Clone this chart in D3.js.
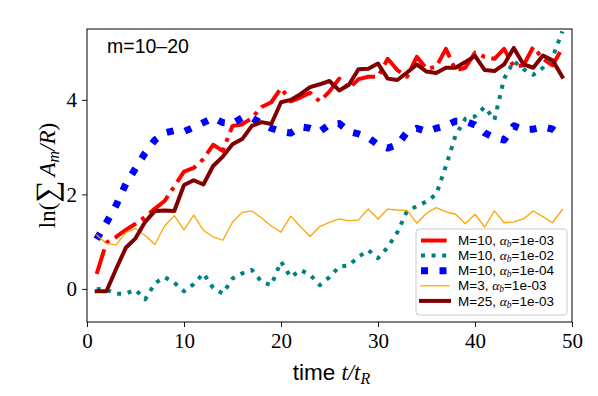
<!DOCTYPE html>
<html><head><meta charset="utf-8">
<script src="https://cdn.jsdelivr.net/npm/d3@7/dist/d3.min.js"></script>
<style>body{margin:0;background:#fff}svg{display:block}</style>
</head><body><svg id="c" width="598" height="396"></svg>
<script>
const times = [1,2,3,4,5,6,7,8,9,10,11,12,13,14,15,16,17,18,19,20,21,22,23,24,25,26,27,28,29,30,31,32,33,34,35,36,37,38,39,40,41,42,43,44,45,46,47,48,49];
const seriesLabels = ["M=10", "M=10", "M=10", "M=3", "M=25"];
const alphaLabels = ["1e-03", "1e-02", "1e-04", "1e-03", "1e-03"];
const m10a3 = [0.32,0.98,1.1,1.25,1.38,1.52,1.7,1.86,2.17,2.48,2.56,2.75,3.05,2.92,3.45,3.48,3.62,3.85,3.95,4.25,3.97,4.05,4.15,3.97,4.18,4.45,4.24,4.44,4.49,4.49,4.87,4.63,4.49,4.91,4.66,4.7,5.08,4.63,4.68,5.0,4.91,4.87,5.08,4.7,4.73,5.12,4.87,4.73,5.1];
const m10a2 = [0.0,-0.02,-0.1,-0.1,-0.02,-0.22,0.12,0.25,0.13,-0.05,0.1,0.33,0.02,-0.1,0.22,0.33,0.4,0.15,0.08,0.58,0.25,0.4,0.3,0.08,0.25,0.47,0.5,0.68,0.82,0.65,0.88,1.2,1.65,1.75,1.85,2.0,2.6,3.25,3.6,3.65,3.85,3.58,4.45,4.82,4.65,4.53,4.68,4.9,5.45];
const m10a4 = [1.05,1.4,1.77,2.22,2.55,2.88,3.15,3.3,3.35,3.33,3.42,3.52,3.62,3.52,3.5,3.62,3.62,3.5,3.4,3.33,3.3,3.43,3.4,3.33,3.48,3.5,3.33,3.28,3.2,3.05,2.98,3.05,3.32,3.4,3.33,3.4,3.45,3.55,3.55,3.47,3.3,3.2,3.15,3.45,3.37,3.38,3.43,3.38,3.22];
const m3a3 = [1.14,0.96,0.93,1.19,1.28,1.13,0.94,1.33,1.55,1.25,1.56,1.24,1.1,1.03,1.41,1.62,1.65,1.5,1.33,1.2,1.54,1.32,1.11,1.32,1.41,1.48,1.44,1.46,1.69,1.48,1.69,1.67,1.66,1.39,1.6,1.72,1.63,1.58,1.38,1.58,1.31,1.65,1.4,1.42,1.48,1.65,1.53,1.4,1.68];
const m25a3 = [-0.05,-0.05,0.42,0.87,1.07,1.42,1.65,1.66,1.65,2.2,2.3,2.21,2.6,2.8,3.06,3.17,3.45,3.53,3.49,3.95,4.0,4.12,4.27,4.33,4.4,4.2,4.32,4.65,4.66,4.77,4.45,4.42,4.58,4.75,4.6,4.57,4.68,4.68,4.8,4.93,4.63,4.61,4.75,5.1,4.75,4.68,4.94,4.84,4.49];
const xTicks = [0,10,20,30,40,50];
const yTicks = [0,2,4];
const panelLabel = "m=10–20";

const seriesData = [m10a3, m10a2, m10a4, m3a3, m25a3];
const styles = [
  {color:"#ff0000", w:4, dash:"25.6,6.4,4,6.4"},
  {color:"#008080", w:4, dash:"4,6.6"},
  {color:"#0000ff", w:7, dash:"7,11.5"},
  {color:"#ffa500", w:1.3, dash:null},
  {color:"#800000", w:4, dash:null}
];

const L=87, R=572, T=29, B=322;
const svg = d3.select("#c");
const x = d3.scaleLinear().domain([0,50]).range([L,R]);
const y = d3.scaleLinear().domain([-0.7,5.5]).range([B,T]);
const serif = "'Liberation Serif', 'DejaVu Serif', serif";
const sans = "'Liberation Sans', 'DejaVu Sans', sans-serif";

svg.append("defs").append("clipPath").attr("id","clip")
  .append("rect").attr("x",L).attr("y",T).attr("width",R-L).attr("height",B-T);

const line = d3.line().x((d,i)=>x(times[i])).y(d=>y(d));
const g = svg.append("g").attr("clip-path","url(#clip)");
seriesData.forEach((s,k)=>{
  const st = styles[k];
  g.append("path").datum(s).attr("d",line)
    .attr("fill","none").attr("stroke",st.color).attr("stroke-width",st.w)
    .attr("stroke-dasharray",st.dash).attr("stroke-linejoin","round")
    .attr("stroke-linecap", st.dash ? "butt" : "square");
});

// axes
const xa = svg.append("g").attr("transform",`translate(0,${B})`)
  .call(d3.axisBottom(x).tickValues(xTicks).tickSize(5).tickPadding(6).tickFormat(d3.format("d")));
const ya = svg.append("g").attr("transform",`translate(${L},0)`)
  .call(d3.axisLeft(y).tickValues(yTicks).tickSize(5).tickPadding(5).tickFormat(d3.format("d")));
[xa,ya].forEach(a=>{
  a.select(".domain").remove();
  a.selectAll("line").attr("stroke","#000").attr("stroke-width",0.9);
  a.selectAll("text").attr("font-family",serif).attr("font-size",21).attr("fill","#000");
});
svg.append("rect").attr("x",L).attr("y",T).attr("width",R-L).attr("height",B-T)
  .attr("fill","none").attr("stroke","#000").attr("stroke-width",1);

// panel label
svg.append("text").attr("x",107).attr("y",53).attr("font-family",sans).attr("font-size",19.5)
  .attr("fill","#000").text(panelLabel);

// x label
const xl = svg.append("text").attr("x",(L+R)/2+2).attr("y",380).attr("text-anchor","middle")
  .attr("font-size",22.5).attr("fill","#000");
xl.append("tspan").attr("font-family",sans).text("time ");
xl.append("tspan").attr("font-family",serif).attr("font-style","italic").text("t/t");
xl.append("tspan").attr("font-family",serif).attr("font-style","italic").attr("font-size",16).attr("dy",4).text("R");

// y label
const yl = svg.append("text").attr("transform",`translate(55,${(T+B)/2}) rotate(-90)`)
  .attr("text-anchor","middle").attr("font-family",serif).attr("font-size",23).attr("fill","#000");
yl.append("tspan").text("ln(");
yl.append("tspan").attr("font-size",31).attr("dy",2).text("∑");
yl.append("tspan").attr("font-style","italic").attr("dy",-2).attr("dx",4).text("A");
yl.append("tspan").attr("font-style","italic").attr("font-size",16).attr("dy",4).text("m");
yl.append("tspan").attr("font-style","italic").attr("dy",-4).text("/R");
yl.append("tspan").text(")");

// legend
const lg = svg.append("g");
lg.append("rect").attr("x",416).attr("y",229).attr("width",151).attr("height",86).attr("rx",3)
  .attr("fill","#fff").attr("fill-opacity",0.8).attr("stroke","#cccccc").attr("stroke-width",1);
seriesLabels.forEach((lab,k)=>{
  const cy = 240.5 + k*15.1;
  const st = styles[k];
  lg.append("line").attr("x1",421).attr("x2",449).attr("y1",cy).attr("y2",cy)
    .attr("stroke",st.color).attr("stroke-width",st.w).attr("stroke-dasharray",st.dash)
    .attr("stroke-linecap", st.dash ? "butt" : "square");
  const t = lg.append("text").attr("x",458).attr("y",cy+4.6).attr("font-size",13.5).attr("fill","#000");
  t.append("tspan").attr("font-family",sans).text(lab + ", ");
  t.append("tspan").attr("font-family",serif).attr("font-style","italic").text("α");
  t.append("tspan").attr("font-family",serif).attr("font-style","italic").attr("font-size",9.5).attr("dy",2).text("b");
  t.append("tspan").attr("font-family",sans).attr("dy",-2).text("=" + alphaLabels[k]);
});
</script></body></html>
